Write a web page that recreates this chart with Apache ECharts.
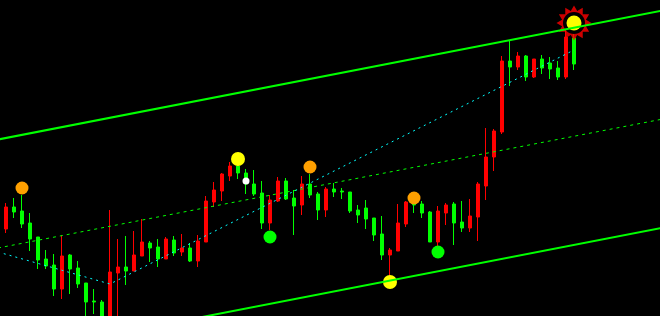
<!DOCTYPE html>
<html>
<head>
<meta charset="utf-8">
<script src="https://cdn.jsdelivr.net/npm/echarts@6/dist/echarts.min.js"></script>
<style>
html,body{margin:0;padding:0;background:#000;}
#chart{width:660px;height:316px;}
</style>
</head>
<body>
<div id="chart"></div>
<script>
// bar positions on the time scale (bar index); the view shows bars 0.25 .. 82.75
const viewStart = 0.25;
const viewEnd = 82.75;

// candles: [open, close, low, high] in price points, one per bar starting at bar 0
const ohlc = [
[99,89,87,101],[87,109,83,113],[109,104,98,118],[105,92,88,121],[93,77,65,103],
[79,56,47,79],[57,50,47,66],[51,27,20,62],[27,60,17,81],[61,47,22,62],
[48,32,28,55],[33,14,-2,33],[15,14,2,27],[14,-4,-9,16],[-14,44,-19,106],
[43,49,-4,77],[49,45,31,80],[45,61,45,85],[60,74,60,97],[73,68,54,75],
[69,57,49,77],[57,77,57,79],[76,63,60,80],[64,68,60,82],[68,55,54,73],
[55,75,49,81],[74,115,74,120],[114,126,109,134],[125,142,115,143],[140,150,135,154],
[150,143,137,156],[143,132,122,147],[132,122,120,146],[123,93,87,135],[93,116,86,121],
[115,135,114,139],[135,117,116,138],[118,110,81,126],[111,132,101,140],[132,121,118,142],
[122,106,96,124],[106,127,99,129],[127,124,119,133],[125,124,117,128],[124,105,103,124],
[106,101,93,111],[108,97,87,116],[98,81,75,98],[82,61,56,100],[61,66,36,68],
[65,93,65,112],[92,114,89,115],[112,111,103,117],[112,103,98,115],[104,74,74,105],
[74,105,70,110],[103,111,91,113],[112,93,71,114],[94,88,84,115],[88,100,84,117],
[99,132,75,134],[130,159,116,188],[159,185,145,187],[184,255,182,260],[255,249,230,276],
[249,260,246,264],[260,239,235,261],[239,257,238,257],[257,248,242,261],[253,247,237,259],
[248,239,236,255],[239,279,237,286],[278,252,246,286]
];

// channel lines: [bar, price]
const channelUpper = [[0,176.5],[83,305.4]];
const channelLower = [[0,-40.6],[83,88.2]];
const channelMid   = [[0,68],[83,196.8]];
// zigzag (cyan dotted)
const zigzag = [[0,64],[14,32],[72,266]];

// signal markers: [bar, price]
const orangeDots = [[3,128],[39,149],[52,118]];
const yellowDots = [[30,157],[49,34]];
const greenDots  = [[34,79],[55,64]];
const whiteDots  = [[31,135]];
const sunDots    = [[72,293]];

function starPath(n, R, r){
  let d = '';
  for (let k = 0; k < 2*n; k++){
    const a = Math.PI * k / n - Math.PI/2;
    const rad = (k % 2 === 0) ? R : r;
    const x = (R + rad*Math.cos(a)).toFixed(2), y = (R + rad*Math.sin(a)).toFixed(2);
    d += (k === 0 ? 'M' : 'L') + x + ',' + y;
  }
  return 'path://' + d + 'Z';
}

const candleData = ohlc.map((d, i) => [i, d[0], d[1], d[2], d[3]]);

const chart = echarts.init(document.getElementById('chart'), null, {renderer:'canvas'});
const dotSeries = (data, color, size, z) => ({
  type:'scatter', data, symbol:'circle', symbolSize:size, z,
  itemStyle:{color, opacity:1}, silent:true
});
chart.setOption({
  animation:false,
  backgroundColor:'#000000',
  grid:{left:0, right:0, top:0, bottom:0},
  xAxis:{type:'value', min:viewStart, max:viewEnd, show:false, splitLine:{show:false}},
  yAxis:{type:'value', min:0, max:316, show:false, splitLine:{show:false}},
  series:[
    {type:'candlestick', data:candleData, barWidth:4, z:2,
      encode:{x:0, y:[1,2,3,4]},
      itemStyle:{color:'#ff0000', color0:'#00ff00', borderColor:'#ff0000', borderColor0:'#00ff00', borderWidth:1}},
    {type:'line', data:channelMid, symbol:'none', z:3,
      lineStyle:{color:'#00ff00', width:1, type:[3,4]}},
    {type:'line', data:zigzag, symbol:'none', z:3,
      lineStyle:{color:'#00ffff', width:1, type:[2,4]}},
    dotSeries(orangeDots, '#ffa000', 13, 4),
    dotSeries(yellowDots, '#ffff00', 14, 4),
    dotSeries(greenDots, '#00ff00', 13, 4),
    dotSeries(whiteDots, '#ffffff', 7, 4),
    {type:'scatter', data:sunDots, symbol:starPath(12,17,12), symbolSize:35, z:4, itemStyle:{color:'#ff0000'}},
    dotSeries(sunDots, '#000000', 22, 5),
    dotSeries(sunDots, '#ffff00', 15, 6),
    {type:'line', data:channelUpper, symbol:'none', z:7,
      lineStyle:{color:'#00ff00', width:2}},
    {type:'line', data:channelLower, symbol:'none', z:7,
      lineStyle:{color:'#00ff00', width:2}}
  ]
});
</script>
</body>
</html>
